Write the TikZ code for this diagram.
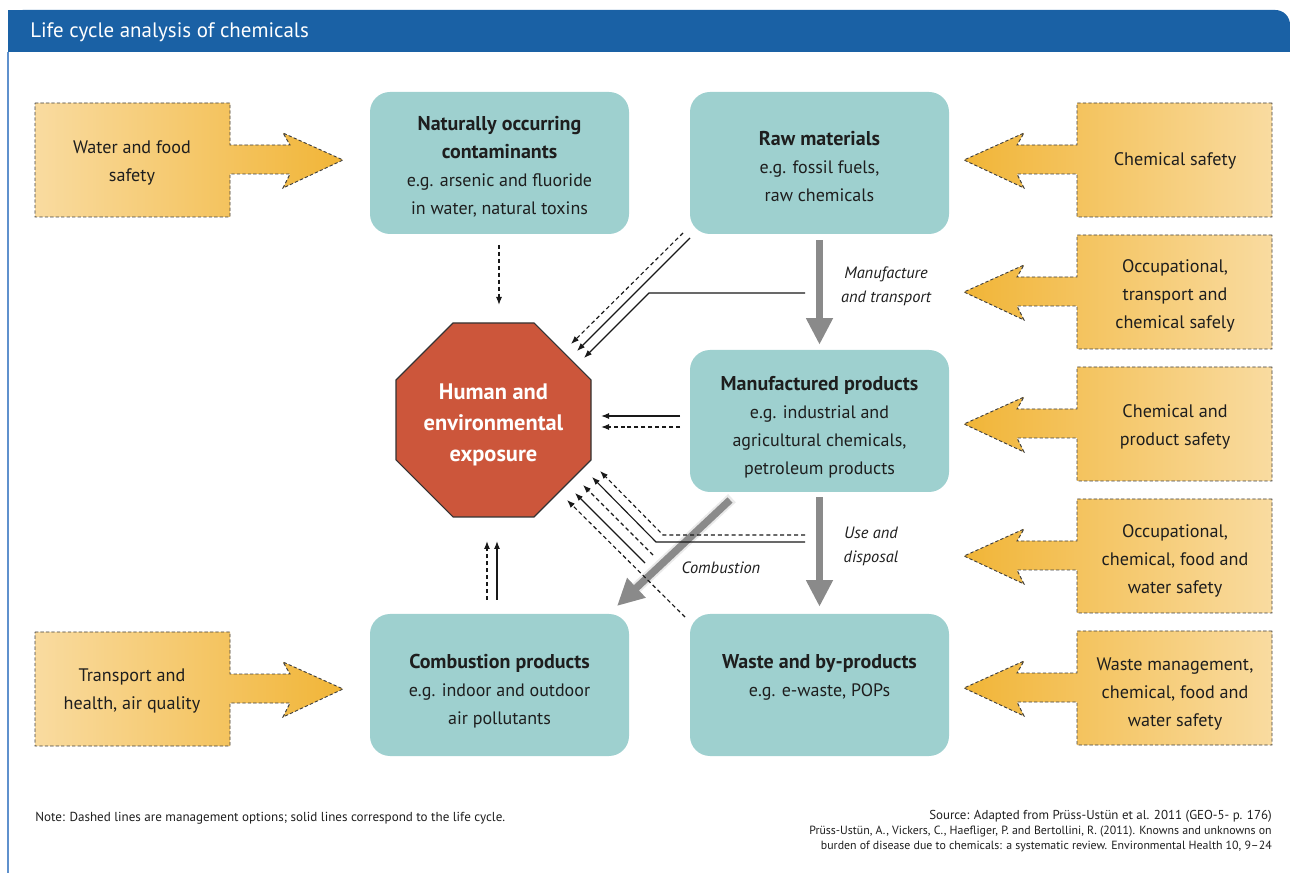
\documentclass[tikz,border=0pt]{standalone}
\usepackage{fontspec}
\setmainfont{PT Sans}
\usetikzlibrary{arrows.meta}
\definecolor{hdr}{RGB}{26,97,165}
\definecolor{edgeblue}{RGB}{95,145,205}
\definecolor{boxteal}{RGB}{158,208,207}
\definecolor{octred}{RGB}{204,86,59}
\definecolor{oLight}{RGB}{249,219,160}
\definecolor{oDark}{RGB}{241,181,55}
\definecolor{garrow}{RGB}{138,138,138}
\definecolor{haloc}{RGB}{234,234,234}
\definecolor{txt}{RGB}{30,30,30}
\newcommand\safeL[1]{\path[safeshape,left color=oLight,right color=oDark] #1 -- ++(195,0) -- ++(0,42) -- ++(60,0) -- ++(-7,-12) -- ++(60,27) -- ++(-60,28) -- ++(7,-14) -- ++(-60,0) -- ++(0,43) -- ++(-195,0) -- cycle;}
\newcommand\safeR[1]{\path[safeshape,left color=oDark,right color=oLight] #1 -- ++(-195,0) -- ++(0,42) -- ++(-60,0) -- ++(7,-12) -- ++(-60,27) -- ++(60,28) -- ++(-7,-14) -- ++(60,0) -- ++(0,43) -- ++(195,0) -- cycle;}
\newcommand\boxhead[1]{{\fontsize{15}{21}\selectfont\bfseries #1}}
\begin{document}
\begin{tikzpicture}[x=0.75pt,y=-0.75pt,
 tealbox/.style={fill=boxteal, rounded corners=15pt, minimum width=194.25pt, minimum height=106.5pt, inner sep=0pt},
 boxtext/.style={align=center, text=txt, font=\fontsize{13.5}{21}\selectfont},
 safeshape/.style={draw=black!75, line width=0.7pt, dash pattern=on 2.5pt off 1.6pt},
 safetext/.style={align=center, text=txt, font=\fontsize{13.6}{21}\selectfont},
 bigarrow/.style={draw=garrow, line width=5.5pt, -{Triangle[length=20pt,width=19pt,fill=garrow]}},
 thinarr/.style={draw=black!90, line width=0.85pt, -{Latex[length=6pt,width=4.5pt]}},
 thindash/.style={thinarr, dash pattern=on 3pt off 2.2pt},
 lbl/.style={font=\fontsize{12.3}{18}\selectfont\itshape, align=center, text=txt},
]
\useasboundingbox (0,0) rectangle (1290,873);
% header
\fill[hdr, rounded corners=11pt] (8,10) rectangle (1290,52);
\fill[hdr] (8,10) rectangle (640,52);
\fill[hdr] (8,30) rectangle (1290,52);
\node[anchor=west, text=white, font=\fontsize{15.7}{18}\selectfont, inner sep=0pt] (title) at (30,32) {Life cycle analysis of chemicals};
\draw[edgeblue, line width=1.2pt] (8,52) -- (8,873);

% safety arrows
\safeL{(35,103)}
\safeL{(35,632)}
\safeR{(1272,103)}
\safeR{(1272,235)}
\safeR{(1272,367)}
\safeR{(1272,499)}
\safeR{(1272,631)}
\node[safetext] (ls1) at (132,163) {Water and food\\safety};
\node[safetext] (ls2) at (132,691) {Transport and\\health, air quality};
\node[safetext] (rs1) at (1175,161) {Chemical safety};
\node[safetext] (rs2) at (1175,295.5) {Occupational,\\transport and\\chemical safely};
\node[safetext] (rs3) at (1175,427) {Chemical and\\product safety};
\node[safetext] (rs4) at (1175,561) {Occupational,\\chemical, food and\\water safety};
\node[safetext] (rs5) at (1175,694) {Waste management,\\chemical, food and\\water safety};

% teal boxes
\node[tealbox] (nat) at (499.5,163) {};
\node[tealbox] (raw) at (819.5,163) {};
\node[tealbox] (man) at (819.5,421) {};
\node[tealbox] (comb) at (499.5,685) {};
\node[tealbox] (waste) at (819.5,685) {};
\node[boxtext] (natT) at (499.5,167) {\boxhead{Naturally occurring}\\\boxhead{contaminants}\\e.g. arsenic and fluoride\\in water, natural toxins};
\node[boxtext] (rawT) at (819.5,167) {\boxhead{Raw materials}\\e.g. fossil fuels,\\raw chemicals};
\node[boxtext] (manT) at (819.5,427) {\boxhead{Manufactured products}\\e.g. industrial and\\agricultural chemicals,\\petroleum products};
\node[boxtext] (combT) at (499.5,691) {\boxhead{Combustion products}\\e.g. indoor and outdoor\\air pollutants};
\node[boxtext] (wasteT) at (819.5,677) {\boxhead{Waste and by-products}\\e.g. e-waste, POPs};

% octagon
\filldraw[fill=octred, draw=black!80, line width=0.8pt] (453,323) -- (534,323) -- (591,380) -- (591,460) -- (534,517) -- (453,517) -- (396,460) -- (396,380) -- cycle;
\node[align=center, text=white, font=\fontsize{16.8}{23.5}\selectfont\bfseries] (hum) at (493.5,425) {Human and\\environmental\\exposure};

% big gray arrows
\draw[bigarrow] ([yshift=-4.5pt]raw.south) -- ([yshift=3.75pt]man.north);
\draw[bigarrow] ([yshift=-3.75pt]man.south) -- ([yshift=5.25pt]waste.north);
\coordinate (cs) at (730,500);
\coordinate (ct) at (617,606);
\draw[haloc, line width=8.5pt, shorten >=20pt, shorten <=-2pt] (cs) -- (ct);
\draw[bigarrow] (cs) -- (ct);

% labels
\node[lbl] (lblA) at (886,286) {Manufacture\\and transport};
\node[lbl] (lblB) at (871,546) {Use and\\disposal};
\node[lbl] (lblC) at (721,568) {Combustion};

% thin connectors
\coordinate (a1) at (499,245); \coordinate (a2) at (499,305);
\draw[thindash] (a1) -- (a2);
\coordinate (b1) at (683,233); \coordinate (b2) at (571,344);
\draw[thindash] (b1) -- (b2);
\coordinate (c1) at (690,238); \coordinate (c2) at (577,351);
\draw[thinarr] (c1) -- (c2);
\coordinate (d1) at (805,293); \coordinate (d2) at (649,293); \coordinate (d3) at (584,358);
\draw[thinarr] (d1) -- (d2) -- (d3);
\coordinate (e1) at (680,416); \coordinate (e2) at (601,416);
\draw[thinarr] (e1) -- (e2);
\coordinate (f1) at (680,427); \coordinate (f2) at (601,427);
\draw[thindash] (f1) -- (f2);
\coordinate (g1) at (805,535); \coordinate (g2) at (663,535); \coordinate (g3) at (600,471);
\draw[thindash] (g1) -- (g2) -- (g3);
\coordinate (h1) at (805,542); \coordinate (h2) at (656,542); \coordinate (h3) at (592,477);
\draw[thinarr] (h1) -- (h2) -- (h3);
\coordinate (i1) at (653,555); \coordinate (i2) at (583,485);
\draw[thindash] (i1) -- (i2);
\coordinate (j1) at (645,563); \coordinate (j2) at (575,493);
\draw[thinarr] (j1) -- (j2);
\coordinate (k1) at (685,617); \coordinate (k2) at (567,500);
\draw[thindash] (k1) -- (k2);
\coordinate (l1) at (487,600); \coordinate (l2) at (487,541);
\draw[thindash] (l1) -- (l2);
\coordinate (m1) at (497,600); \coordinate (m2) at (497,541);
\draw[thinarr] (m1) -- (m2);

% footer
\node[anchor=base west, text=txt, font=\fontsize{9.8}{11}\selectfont, inner sep=0pt] (note) at (35,821) {Note: Dashed lines are management options; solid lines correspond to the life cycle.};
\node[anchor=base east, text=txt, font=\fontsize{9.7}{11}\selectfont, inner sep=0pt] (src1) at (1272,819) {Source: Adapted from Prüss-Ustün et al. 2011 (GEO-5- p. 176)};
\node[anchor=base east, text=txt, font=\fontsize{8.9}{10}\selectfont, inner sep=0pt] (src2) at (1272,834) {Prüss-Ustün, A., Vickers, C., Haefliger, P. and Bertollini, R. (2011). Knowns and unknowns on};
\node[anchor=base east, text=txt, font=\fontsize{8.9}{10}\selectfont, inner sep=0pt] (src3) at (1272,849) {burden of disease due to chemicals: a systematic review. Environmental Health 10, 9–24};
\end{tikzpicture}
\end{document}
